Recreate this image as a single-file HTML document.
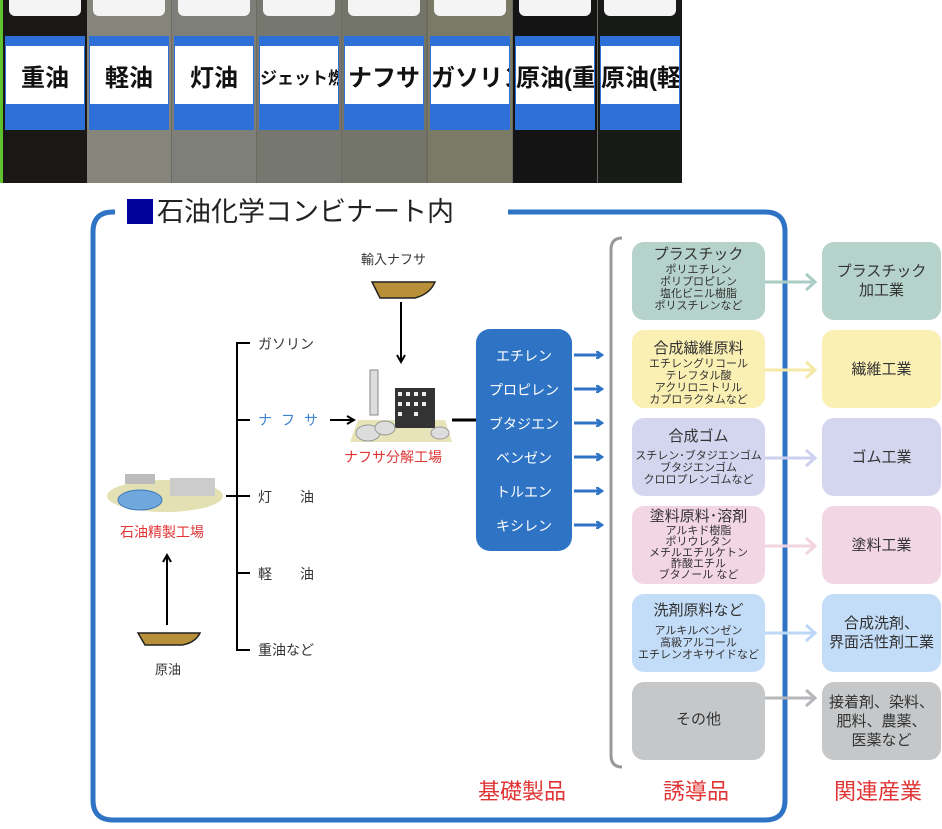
<!DOCTYPE html>
<html><head><meta charset="utf-8"><style>
*{margin:0;padding:0;box-sizing:border-box}
body{width:942px;height:829px;background:#fff;position:relative;overflow:hidden;font-family:"Liberation Sans","Noto Sans CJK JP",sans-serif;color:#333}
.a{position:absolute}
.bt{position:absolute;top:0;height:183px;width:84px}
.cap{position:absolute;top:0;left:6px;right:6px;height:16px;background:#f4f4f4;border-radius:0 0 6px 6px}
.lb{position:absolute;top:36px;left:2px;right:2px;height:94px;background:#2f6fd8}
.lw{position:absolute;top:46px;left:3px;right:3px;height:58px;background:#fff;font-size:24px;font-weight:bold;color:#111;text-align:center;line-height:66px;white-space:nowrap;overflow:hidden}
.box{position:absolute;border-radius:12px;text-align:center;color:#333}
.box b{display:block;font-weight:normal;font-size:15px;line-height:18px}
.box s{display:block;text-decoration:none;font-size:11px;line-height:12px}
.ind{position:absolute;left:822px;width:119px;height:78px;border-radius:12px;display:flex;align-items:center;justify-content:center;text-align:center;font-size:15px;line-height:19px;color:#333}
.red{color:#e03535}
</style></head><body>
<div class="a" style="left:0;top:0;width:680px;height:183px;background:#6b6b62"></div>
<div class="a" style="left:0;top:0;width:3px;height:183px;background:#5fc030"></div>
<div class="bt" style="left:3px;background:#1a1816"><div class="cap"></div><div class="lb"></div><div class="lw">重油</div></div>
<div class="bt" style="left:87px;background:#85857c"><div class="cap"></div><div class="lb"></div><div class="lw">軽油</div></div>
<div class="bt" style="left:172px;background:#7d7f78"><div class="cap"></div><div class="lb"></div><div class="lw">灯油</div></div>
<div class="bt" style="left:257px;background:#76786f"><div class="cap"></div><div class="lb"></div><div class="lw" style="font-size:17px">ジェット燃料</div></div>
<div class="bt" style="left:342px;background:#73756a"><div class="cap"></div><div class="lb"></div><div class="lw">ナフサ</div></div>
<div class="bt" style="left:428px;background:#7b7a66"><div class="cap"></div><div class="lb"></div><div class="lw">ガソリン</div></div>
<div class="bt" style="left:513px;background:#141414"><div class="cap"></div><div class="lb"></div><div class="lw">原油(重</div></div>
<div class="bt" style="left:598px;background:#181a18"><div class="cap"></div><div class="lb"></div><div class="lw">原油(軽</div></div>

<svg class="a" style="left:0;top:0" width="942" height="829">
<defs><marker id="ab" markerWidth="8" markerHeight="8" refX="6" refY="4" orient="auto" markerUnits="userSpaceOnUse"><path d="M0,0 L6,4 L0,8" fill="none" stroke="#2f73c4" stroke-width="2.5"/></marker>
<marker id="ak" markerWidth="10" markerHeight="10" refX="8" refY="5" orient="auto" markerUnits="userSpaceOnUse"><path d="M1,1 L8,5 L1,9" fill="none" stroke="#000" stroke-width="2"/></marker></defs>
<path d="M115,212 L113,212 Q93,212 93,232 L93,800 Q93,820 113,820 L765,820 Q785,820 785,800 L785,232 Q785,212 765,212 L508,212" fill="none" stroke="#2f73c4" stroke-width="5"/>
<path d="M622,238 Q611,238 611,250 L611,755 Q611,767 622,767" fill="none" stroke="#999" stroke-width="3"/>
<path d="M250,343 L237,343 L237,650 L250,650 M237,420 L250,420 M237,496 L250,496 M237,573 L250,573 M226,496 L237,496" fill="none" stroke="#000" stroke-width="2"/>
<path d="M167,625 L167,555" stroke="#000" stroke-width="2" marker-end="url(#ak)"/>
<path d="M401,302 L401,362" stroke="#000" stroke-width="2" marker-end="url(#ak)"/>
<path d="M330,420 L354,420" stroke="#000" stroke-width="2" marker-end="url(#ak)"/>
<path d="M452,420 L476,420" stroke="#000" stroke-width="3"/>
<g stroke="#2f73c4" stroke-width="3" marker-end="url(#ab)">
<path d="M574,355 L602,355"/><path d="M574,389 L602,389"/><path d="M574,423 L602,423"/><path d="M574,457 L602,457"/><path d="M574,491 L602,491"/><path d="M574,525 L602,525"/></g>
<g stroke-width="3" fill="none">
<path d="M765,282 L815,282 M806,274 L815,282 L806,290" stroke="#a9ccc4"/>
<path d="M765,370 L815,370 M806,362 L815,370 L806,378" stroke="#f5e9a6"/>
<path d="M765,458 L815,458 M806,450 L815,458 L806,466" stroke="#ccd0ee"/>
<path d="M765,546 L815,546 M806,538 L815,546 L806,554" stroke="#f2d4e1"/>
<path d="M765,633 L815,633 M806,625 L815,633 L806,641" stroke="#bcd8f6"/>
<path d="M765,698 L815,698 M806,690 L815,698 L806,706" stroke="#b5b7bb"/>
</g>
<path d="M372,282 L435,282 Q430,294 415,298 L380,298 Z" fill="#b8903a" stroke="#222" stroke-width="1.5"/>
<path d="M138,633 L200,633 Q195,643 182,645 L145,645 Z" fill="#b8903a" stroke="#222" stroke-width="1.5"/>
<path d="M358,420 L445,420 L452,442 L350,442 Z" fill="#e6e4b8"/>
<rect x="370" y="370" width="8" height="45" fill="#ddd" stroke="#888"/>
<rect x="395" y="388" width="40" height="40" fill="#333"/>
<g fill="#eee"><rect x="398" y="392" width="4" height="4"/><rect x="406" y="392" width="4" height="4"/><rect x="414" y="392" width="4" height="4"/><rect x="422" y="392" width="4" height="4"/><rect x="398" y="402" width="4" height="4"/><rect x="406" y="402" width="4" height="4"/><rect x="414" y="402" width="4" height="4"/><rect x="422" y="402" width="4" height="4"/><rect x="398" y="412" width="4" height="4"/><rect x="414" y="412" width="4" height="4"/></g>
<ellipse cx="368" cy="433" rx="12" ry="8" fill="#ddd" stroke="#999"/><ellipse cx="385" cy="428" rx="10" ry="7" fill="#ddd" stroke="#999"/><ellipse cx="440" cy="433" rx="9" ry="6" fill="#ddd" stroke="#999"/>
<ellipse cx="165" cy="496" rx="58" ry="16" fill="#e3e1b4"/>
<ellipse cx="140" cy="500" rx="22" ry="10" fill="#6fa8dc" stroke="#3f78b8"/>
<rect x="170" y="478" width="45" height="18" fill="#ccc"/>
<rect x="125" y="474" width="30" height="10" fill="#bbb"/>
</svg>

<div class="a" style="left:127px;top:199px;width:26px;height:25px;background:#00009a"></div>
<div class="a" style="left:157px;top:196px;font-size:27px;color:#222;line-height:32px">石油化学コンビナート内</div>

<div class="a" style="left:361px;top:249px;font-size:13px">輸入ナフサ</div>
<div class="a" style="left:258px;top:334px;font-size:14px">ガソリン</div>
<div class="a" style="left:258px;top:410px;font-size:14px;color:#3c84d0;letter-spacing:9px">ナフサ</div>
<div class="a" style="left:258px;top:487px;font-size:14px">灯　　油</div>
<div class="a" style="left:258px;top:564px;font-size:14px">軽　　油</div>
<div class="a" style="left:258px;top:640px;font-size:14px">重油など</div>
<div class="a red" style="left:344px;top:447px;font-size:14px">ナフサ分解工場</div>
<div class="a red" style="left:120px;top:522px;font-size:14px">石油精製工場</div>
<div class="a" style="left:155px;top:659px;font-size:13px">原油</div>

<div class="a" style="left:476px;top:329px;width:96px;height:222px;background:#2f73c4;border-radius:14px;color:#fff;font-size:14px;text-align:center;padding-top:10px;line-height:34px">エチレン<br>プロピレン<br>ブタジエン<br>ベンゼン<br>トルエン<br>キシレン</div>

<div class="box" style="left:632px;top:242px;width:133px;height:78px;background:#b5d2cb;padding-top:4px"><b>プラスチック</b><s>ポリエチレン<br>ポリプロピレン<br>塩化ビニル樹脂<br>ポリスチレンなど</s></div>
<div class="box" style="left:632px;top:330px;width:133px;height:78px;background:#fbf0b4;padding-top:10px"><b>合成繊維原料</b><s>エチレングリコール<br>テレフタル酸<br>アクリロニトリル<br>カプロラクタムなど</s></div>
<div class="box" style="left:632px;top:418px;width:133px;height:78px;background:#d4d6ef;padding-top:10px"><b>合成ゴム</b><s style="margin-top:4px">スチレン･ブタジエンゴム<br>ブタジエンゴム<br>クロロプレンゴムなど</s></div>
<div class="box" style="left:632px;top:506px;width:133px;height:78px;background:#f3d6e3;padding-top:2px"><b>塗料原料･溶剤</b><s style="line-height:11px">アルキド樹脂<br>ポリウレタン<br>メチルエチルケトン<br>酢酸エチル<br>ブタノール など</s></div>
<div class="box" style="left:632px;top:594px;width:133px;height:78px;background:#c3dcf7;padding-top:8px"><b>洗剤原料など</b><s style="margin-top:5px">アルキルベンゼン<br>高級アルコール<br>エチレンオキサイドなど</s></div>
<div class="box" style="left:632px;top:682px;width:133px;height:78px;background:#c5c7c9;padding-top:29px"><b>その他</b></div>

<div class="ind" style="top:242px;background:#b5d2cb">プラスチック<br>加工業</div>
<div class="ind" style="top:330px;background:#fbf0b4">繊維工業</div>
<div class="ind" style="top:418px;background:#d4d6ef">ゴム工業</div>
<div class="ind" style="top:506px;background:#f3d6e3">塗料工業</div>
<div class="ind" style="top:594px;background:#c3dcf7">合成洗剤、<br>界面活性剤工業</div>
<div class="ind" style="top:682px;background:#c5c7c9">接着剤、染料、<br>肥料、農薬、<br>医薬など</div>

<div class="a red" style="left:478px;top:774px;font-size:22px">基礎製品</div>
<div class="a red" style="left:663px;top:774px;font-size:22px">誘導品</div>
<div class="a red" style="left:834px;top:774px;font-size:22px">関連産業</div>
</body></html>
